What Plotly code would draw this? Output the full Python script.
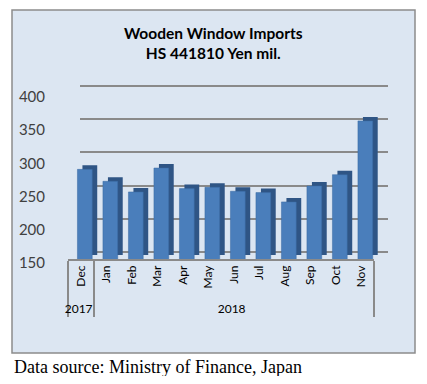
import plotly.graph_objects as go

# ---- data ----
months = ["Dec", "Jan", "Feb", "Mar", "Apr", "May", "Jun", "Jul", "Aug", "Sep", "Oct", "Nov"]
years = ["2017"] + ["2018"] * 11
values = [285, 267, 251, 287, 256, 258, 252, 250, 236, 260, 277, 358]
y_ticks = [150, 200, 250, 300, 350, 400]
title_lines = ["Wooden Window Imports", "HS 441810 Yen mil."]
source_text = "Data source: Ministry of Finance, Japan"

# the page body has an 8px margin, so the figure is sized to fit the 427x384 window
OFF = 8
W, H = 427 - 2 * OFF, 384 - 2 * OFF


def fx(p):
    return (p - OFF) / W


def fy(p):
    return 1 - (p - OFF) / H


FRONT = "#4a7ebb"
SIDE = "#2f5585"
GRID = "#8a8a8a"

fig = go.Figure()

# back-plane subplot carrying the gridlines
fig.add_trace(go.Scatter(x=months, y=[None] * len(months), xaxis="x", yaxis="y",
                         showlegend=False, hoverinfo="skip"))
# depth (side/top faces) of the 3D bars
fig.add_trace(go.Bar(x=months, y=values, xaxis="x2", yaxis="y2", width=0.58, offset=-0.13,
                     marker=dict(color=SIDE, line=dict(width=0)), showlegend=False, hoverinfo="skip"))
# front faces
fig.add_trace(go.Bar(x=[years, months], y=values, xaxis="x3", yaxis="y3", width=0.58, offset=-0.13,
                     marker=dict(color=FRONT, line=dict(width=0.5, color="#3b6aa3")), showlegend=False))

fig.update_layout(
    width=W, height=H,
    margin=dict(l=0, r=0, t=0, b=0),
    paper_bgcolor="white",
    plot_bgcolor="rgba(0,0,0,0)",
    xaxis=dict(domain=[fx(80), fx(388)], anchor="y", type="category", visible=False),
    yaxis=dict(domain=[fy(255.3), fy(82.7)], anchor="x", range=[145, 405], tickvals=y_ticks,
               showgrid=True, gridcolor=GRID, gridwidth=1.5, showticklabels=False,
               zeroline=False, ticks=""),
    xaxis2=dict(domain=[fx(73), fx(379)], anchor="y2", type="category", visible=False),
    yaxis2=dict(domain=[fy(255), fy(89)], anchor="x2", range=[150, 400], visible=False),
    xaxis3=dict(domain=[fx(68), fx(374)], anchor="y3", type="multicategory", tickangle=-90,
                showline=True, linecolor=GRID, linewidth=1.5, showgrid=False,
                showdividers=True, dividercolor=GRID, dividerwidth=1.5,
                ticks="outside", ticklen=6, tickcolor="rgba(0,0,0,0)",
                tickfont=dict(family="Lato", size=12, color="black"), automargin=False),
    yaxis3=dict(domain=[fy(259), fy(93)], anchor="x3", range=[150, 400], tickvals=y_ticks,
                showgrid=False, zeroline=False, showline=False, ticks="",
                tickfont=dict(family="Lato", size=15, color="#404040"), automargin=False,
                ticklabelstandoff=22, ticklabelshift=4),
    shapes=[dict(type="rect", xref="paper", yref="paper", x0=fx(12), x1=fx(415), y0=fy(353), y1=fy(10),
                 fillcolor="#dce6f2", line=dict(color="#8c8c8c", width=1.5), layer="below")],
    annotations=[
        dict(text="<br>".join(title_lines), xref="paper", yref="paper", x=fx(213), y=fy(42.5),
             xanchor="center", yanchor="middle", showarrow=False, align="center",
             font=dict(family="Lato", size=15.5, color="black", weight="bold")),
        dict(text=source_text, xref="paper", yref="paper", x=fx(12), y=fy(367),
             xanchor="left", yanchor="middle", showarrow=False,
             font=dict(family="Liberation Serif", size=18, color="black")),
    ],
)

fig.write_html("out.html")
